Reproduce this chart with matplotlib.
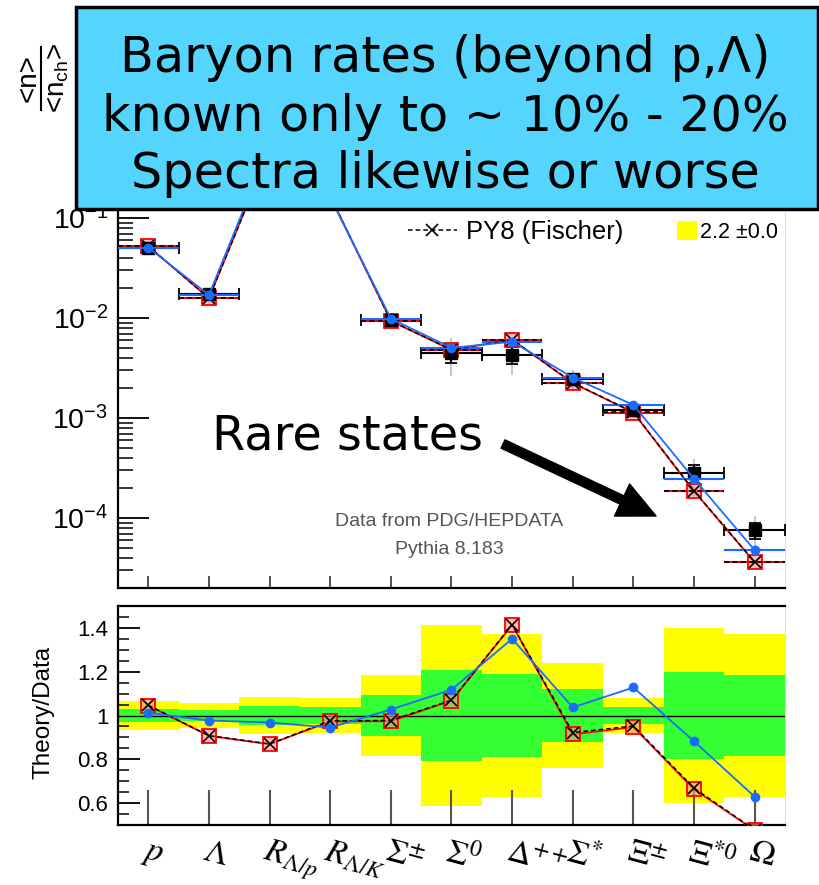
import matplotlib

matplotlib.use("Agg")
import matplotlib.pyplot as plt
import numpy as np
from matplotlib.lines import Line2D
from matplotlib.patches import Patch, Rectangle
from matplotlib.ticker import FixedLocator, FormatStrFormatter, MultipleLocator
from matplotlib.transforms import ScaledTranslation

# %% DATA
labels = [
    r"$p$", r"$\Lambda$", r"$R_{\Lambda/p}$", r"$R_{\Lambda/K}$", r"$\Sigma^{\pm}$",
    r"$\Sigma^{0}$", r"$\Delta^{++}$", r"$\Sigma^{*}$", r"$\Xi^{\pm}$", r"$\Xi^{*0}$",
    r"$\Omega$",
]
# measured rates <n>/<n_ch>
data_rate = [0.050, 0.0174, 0.55, 0.17, 0.0096, 0.0045, 0.0043, 0.00245, 0.0012, 0.00028, 7.6e-5]
# relative uncertainties (inner = green band, outer = yellow band)
rel_err_inner = [0.031, 0.027, 0.043, 0.038, 0.093, 0.21, 0.19, 0.12, 0.04, 0.20, 0.185]
rel_err_outer = [0.064, 0.058, 0.083, 0.081, 0.183, 0.415, 0.373, 0.24, 0.078, 0.40, 0.37]
# theory / data
ratio_red = [1.045, 0.907, 0.869, 0.973, 0.974, 1.068, 1.413, 0.914, 0.947, 0.663, 0.476]
ratio_fischer = [1.047, 0.908, 0.870, 0.976, 0.977, 1.070, 1.415, 0.922, 0.952, 0.668, 0.478]
ratio_blue = [1.012, 0.977, 0.968, 0.945, 1.027, 1.118, 1.350, 1.037, 1.128, 0.882, 0.629]

box_lines = ["Baryon rates (beyond p,\u039b)", "known only to ~ 10% - 20%", "Spectra likewise or worse"]

# %% STYLE
plt.rcParams["font.family"] = ["Liberation Sans", "DejaVu Sans"]
plt.rcParams["axes.unicode_minus"] = False
RED = "#ff0000"
BLUE = "#1a6cff"
W, H = 820, 885


def fx(px):
    return px / W


def fy(py):
    return 1 - py / H


# %% DERIVED
x = np.arange(len(labels)) + 0.5
data = np.array(data_rate)
inner = np.array(rel_err_inner)
outer = np.array(rel_err_outer)
red = data * np.array(ratio_red)
fischer = data * np.array(ratio_fischer)
blue = data * np.array(ratio_blue)

fig = plt.figure(figsize=(W / 100, H / 100), dpi=100)
ax = fig.add_axes([fx(118), fy(588), fx(785) - fx(118), fy(18) - fy(588)])
ax2 = fig.add_axes([fx(118), fy(825), fx(785) - fx(118), fy(606) - fy(825)])

# %% TOP PANEL
ax.set_yscale("log")
ax.set_xlim(0, len(labels))
ax.set_ylim(2e-5, 10)
ax.yaxis.set_major_locator(FixedLocator([1e-4, 1e-3, 1e-2, 1e-1]))
ax.yaxis.set_minor_locator(FixedLocator(
    [m * 10.0**e for e in range(-5, 0) for m in range(2, 10)]))

# total uncertainty (light grey) and inner uncertainty (black)
ax.vlines(x, data * (1 - outer), data * (1 + outer), color="#c8c8c8", lw=1.5, zorder=2)
ax.errorbar(x, data, xerr=0.5, yerr=data * inner, fmt="none", ecolor="black",
            elinewidth=1.5, capsize=4, capthick=1.3, zorder=3)

ax.hlines(red, x - 0.5, x + 0.5, color=RED, lw=1.5, zorder=4)
ax.hlines(fischer, x - 0.5, x + 0.5, color="black", lw=1.2, ls=(0, (3, 2)), zorder=5)
ax.hlines(blue, x - 0.5, x + 0.5, color=BLUE, lw=1.5, zorder=6)

ax.plot(x, red, color=RED, lw=1.3, marker="s", ms=10, mfc=(1, 0.55, 0.55, 0.6),
        mec=RED, mew=1.3, zorder=4)
ax.plot(x, data, ls="none", marker="s", ms=8, color="black", zorder=5)
ax.plot(x, fischer, color="black", lw=1.1, ls=(0, (3, 2)), marker="x", ms=9, mew=1.2, zorder=6)
ax.plot(x, blue, color=BLUE, lw=1.3, marker="o", ms=6, zorder=7)

ax.set_xticks(x)
ax.tick_params(axis="x", which="both", direction="in", length=9, width=1.3,
               color="#444444", labelbottom=False, top=False)
ax.tick_params(axis="y", which="major", direction="in", length=22, width=1.3,
               labelsize=20.5, pad=7, right=False)
ax.tick_params(axis="y", which="minor", direction="in", length=11, width=1.1, right=False)
for s in ["left", "bottom"]:
    ax.spines[s].set_linewidth(1.6)
ax.spines["right"].set_color("#dddddd")
ax.spines["top"].set_visible(False)

ax.text(0.496, 0.1175, "Data from PDG/HEPDATA", transform=ax.transAxes,
        ha="center", va="center", fontsize=14, color="#555555")
ax.text(0.496, 0.0667, "Pythia 8.183", transform=ax.transAxes,
        ha="center", va="center", fontsize=14, color="#555555")

# legend fragments visible below the box
fig.legend(handles=[Line2D([], [], color="black", lw=1.1, ls=(0, (3, 2)), marker="x",
                           ms=9, mew=1.2)],
           labels=["PY8 (Fischer)"], loc="center left", bbox_to_anchor=(fx(408), fy(232)),
           frameon=False, fontsize=18.5, handlelength=1.9, handletextpad=0.35,
           borderpad=0, borderaxespad=0)
fig.legend(handles=[Patch(facecolor="yellow", edgecolor="none")], labels=["2.2 \u00b10.0"],
           loc="center left", bbox_to_anchor=(fx(677), fy(232)), frameon=False,
           fontsize=15.5, handlelength=0.95, handleheight=0.95, handletextpad=0.1,
           borderpad=0, borderaxespad=0)

# y label of the top panel: <n> over <n_ch>, rotated
fig.text(fx(29), fy(78), "<n>", rotation=90, ha="center", va="center", fontsize=20)
fig.text(fx(58), fy(78), r"<n$_{\mathregular{ch}}$>", rotation=90, ha="center",
         va="center", fontsize=20)
fig.add_artist(Line2D([fx(41), fx(41)], [fy(47), fy(110)], transform=fig.transFigure,
                      color="black", lw=1.5))

# %% RATIO PANEL
ax2.bar(x, 2 * outer, bottom=1 - outer, width=1.0, color="#ffff00", lw=0, zorder=1)
ax2.bar(x, 2 * inner, bottom=1 - inner, width=1.0, color="#33ff33", lw=0, zorder=2)
ax2.axhline(1.0, color="black", lw=1.0, zorder=3)

ax2.plot(x, ratio_red, color=RED, lw=1.3, marker="s", ms=10, mfc=(1, 0.55, 0.55, 0.6),
         mec=RED, mew=1.3, zorder=4)
ax2.plot(x, ratio_fischer, color="black", lw=1.1, ls=(0, (3, 2)), marker="x", ms=9,
         mew=1.2, zorder=5)
ax2.plot(x, ratio_blue, color=BLUE, lw=1.3, marker="o", ms=6, zorder=6)

ax2.set_xlim(0, len(labels))
ax2.set_ylim(0.5, 1.5)
ax2.yaxis.set_major_locator(FixedLocator([0.6, 0.8, 1.0, 1.2, 1.4]))
ax2.yaxis.set_major_formatter(FormatStrFormatter("%g"))
ax2.yaxis.set_minor_locator(MultipleLocator(0.05))
ax2.tick_params(axis="y", which="major", direction="in", length=16, width=1.3,
                labelsize=16, pad=7, right=False)
ax2.tick_params(axis="y", which="minor", direction="in", length=8, width=1.1, right=False)
ax2.set_xticks(x)
ax2.set_xticklabels(labels, rotation=-15, ha="left", rotation_mode="anchor",
                    fontsize=24, math_fontfamily="stix")
ax2.tick_params(axis="x", which="major", direction="in", length=25, width=1.5,
                color="#555555", pad=8, top=False)
ax2.tick_params(axis="x", which="minor", bottom=False, top=False)
shift = ScaledTranslation(-1 / 100, 0, fig.dpi_scale_trans)
for lab in ax2.get_xticklabels():
    lab.set_transform(lab.get_transform() + shift)
for s in ["left", "bottom", "top"]:
    ax2.spines[s].set_linewidth(1.6)
ax2.spines["right"].set_color("#dddddd")

fig.text(fx(44), fy(712), "Theory/Data", rotation=90, ha="center", va="center", fontsize=17.5)

# %% ANNOTATIONS
box = Rectangle((fx(76), fy(209)), fx(818) - fx(76), fy(7) - fy(209),
                transform=fig.transFigure, facecolor="#55d5fd", edgecolor="black",
                lw=2.5, zorder=10)
fig.add_artist(box)
for line, base in zip(box_lines, [72, 131, 188]):
    fig.text(fx(445), fy(base), line, ha="center", va="baseline", fontsize=35.5,
             family="DejaVu Sans", zorder=11)

fig.text(fx(212), fy(450), "Rare states", ha="left", va="baseline", fontsize=34.5,
         family="DejaVu Sans", zorder=11)
ax.annotate("", xy=(fx(656), fy(516)), xytext=(fx(503), fy(444)),
            xycoords="figure fraction", textcoords="figure fraction",
            arrowprops=dict(arrowstyle="simple,head_length=0.9,head_width=0.85,tail_width=0.22",
                            mutation_scale=30, color="black", shrinkA=0, shrinkB=0),
            zorder=11)

fig.savefig("out.png", dpi=100)
